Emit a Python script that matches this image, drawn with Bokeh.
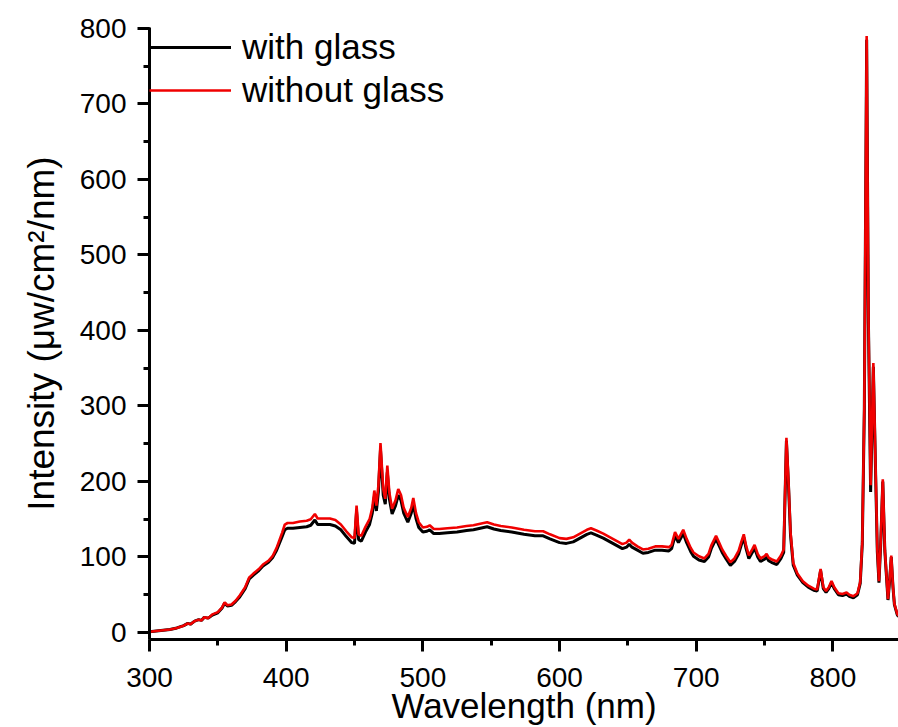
from bokeh.plotting import figure
from bokeh.models import Range1d, SingleIntervalTicker, Legend, LegendItem, ColumnDataSource
from bokeh.embed import file_html
from bokeh.resources import INLINE

# Wavelength grid (nm)
wavelength = [300, 305, 310, 315, 320, 325, 328, 330, 333, 336, 338, 340, 343, 346, 350, 353, 355, 357,
              360, 363, 366, 370, 373, 376, 380, 383, 387, 390, 393, 395, 397, 399, 401, 405, 410, 415,
              418, 421, 423, 427, 432, 436, 440, 444, 448, 450, 451.5, 453, 455, 458, 461, 463, 464.5,
              466, 467.5, 469, 471, 472.5, 474, 475.5, 477.5, 480, 482, 484, 486, 489, 491.5, 493, 495,
              497, 500, 503, 505, 508, 512, 518, 525, 532, 537, 542, 547, 552, 557, 565, 574, 582, 588,
              593, 600, 605, 610, 615, 620, 623, 627, 632, 637, 642, 646, 649, 651, 653, 657, 661, 665,
              670, 675, 680, 682, 684.5, 687, 690.5, 693, 696, 698, 702, 706, 709, 711, 714.5, 717, 719,
              722, 725, 728, 731, 733, 734.8, 736.5, 738.5, 741, 742.7, 745, 747, 750, 751.5, 753, 755,
              759, 762, 764, 766, 767.5, 769, 771, 774, 778, 782, 786, 788.5, 791, 793, 795, 797, 799,
              801, 804, 807, 810, 812, 815, 818, 820, 821.5, 823, 824.7, 826, 827.6, 829.6, 831.2, 832.5,
              833.7, 835, 836.5, 838, 840.3, 841.5, 842.7, 844, 845, 847, 848]

# Intensity without glass (uW/cm2/nm)
without_glass = [1, 2, 3, 4, 6, 9, 12, 11, 15, 17, 16, 20, 19, 24, 27, 33, 40, 36,
                 37, 42, 49, 60, 73, 78, 84, 90, 95, 101, 112, 122, 132, 143, 145, 145, 147, 148,
                 150, 157, 151, 151, 151, 149, 143, 134, 126, 125, 168, 130, 128, 140, 150, 165, 188,
                 168, 195, 251, 190, 177, 221, 185, 164, 175, 190, 182, 165, 153, 165, 178, 158,
                 146, 139, 140, 142, 137, 137, 138, 139, 141, 142, 144, 146, 143, 141, 139, 136, 134, 134,
                 130, 125, 124, 126, 131, 136, 138, 135, 131, 126, 121, 117, 119, 123, 119, 114, 110, 111,
                 114, 114, 113, 116, 133, 124, 136, 124, 112, 106, 101, 98, 104, 115, 128, 118, 110,
                 101, 93, 98, 108, 120, 130, 115, 102, 110, 116, 104, 98, 101, 104, 99, 97,
                 94, 102, 110, 258, 200, 133, 92, 78, 68, 62, 58, 57, 84, 60, 55, 60, 68,
                 60, 52, 51, 53, 50, 48, 52, 67, 120, 300, 790, 420, 195, 357, 220, 110,
                 68, 120, 203, 110, 44, 70, 102, 60, 38, 25, 22]

# Intensity with glass (uW/cm2/nm)
with_glass = [1, 2, 3, 4, 6, 9, 12, 11, 15, 17, 16, 20, 19, 23, 26, 32, 39, 35,
              36, 41, 47, 58, 71, 76, 82, 88, 93, 99, 109, 118, 127, 136, 138, 138, 139, 140,
              142, 149, 143, 143, 143, 141, 136, 127, 119, 118, 160, 123, 121, 133, 143, 158, 180,
              161, 187, 242, 182, 170, 212, 177, 157, 168, 182, 175, 158, 146, 158, 170, 151,
              139, 133, 134, 136, 131, 131, 132, 133, 135, 136, 138, 140, 137, 135, 133, 130, 128, 128,
              124, 119, 118, 120, 125, 130, 132, 129, 125, 120, 115, 111, 113, 117, 113, 109, 105, 106,
              109, 109, 108, 111, 128, 119, 131, 119, 107, 101, 96, 94, 100, 111, 124, 114, 106,
              97, 89, 94, 104, 116, 126, 111, 98, 106, 112, 100, 94, 97, 100, 95, 93,
              90, 98, 106, 254, 196, 129, 89, 76, 66, 60, 56, 55, 82, 58, 53, 58, 66,
              58, 50, 49, 51, 48, 46, 50, 65, 117, 295, 785, 410, 186, 352, 215, 107,
              66, 118, 200, 108, 43, 68, 100, 59, 37, 24, 21]

x_ticks_interval = 100
y_ticks_interval = 100

src = ColumnDataSource(dict(wl=wavelength, wo=without_glass, w=with_glass))

p = figure(width=898, height=727, output_backend="svg", toolbar_location=None,
           x_range=Range1d(300, 848), y_range=Range1d(-9.3, 801.3),
           min_border_left=149, min_border_right=0, min_border_top=27, min_border_bottom=86)

p.outline_line_color = None
p.xgrid.visible = False
p.ygrid.visible = False
p.background_fill_color = "white"

r_black = p.line("wl", "w", source=src, line_color="black", line_width=3)
r_red = p.line("wl", "wo", source=src, line_color="#f00000", line_width=2.6)

FONT = "Liberation Sans"
for ax, interval in ((p.xaxis[0], x_ticks_interval), (p.yaxis[0], y_ticks_interval)):
    ax.ticker = SingleIntervalTicker(interval=interval, num_minor_ticks=2)
    ax.axis_line_width = 3
    ax.axis_line_color = "black"
    ax.major_tick_line_width = 3
    ax.major_tick_out = 12
    ax.major_tick_in = 0
    ax.minor_tick_line_width = 3
    ax.minor_tick_out = 6
    ax.minor_tick_in = 0
    ax.major_label_text_font = FONT
    ax.major_label_text_font_size = "28px"
    ax.major_label_text_color = "black"
    ax.axis_label_text_font = FONT
    ax.axis_label_text_font_size = "35px"
    ax.axis_label_text_font_style = "normal"
    ax.axis_label_text_color = "black"

p.xaxis.axis_label = "Wavelength (nm)"
p.yaxis.axis_label = "Intensity (\u03bcw/cm\u00b2/nm)"
p.yaxis.axis_label_text_font_size = "37px"
p.xaxis.major_label_standoff = 16
p.xaxis.axis_label_standoff = -4
p.yaxis.major_label_standoff = 11
p.yaxis.axis_label_standoff = 15

legend = Legend(items=[LegendItem(label="with glass", renderers=[r_black]),
                       LegendItem(label="without glass", renderers=[r_red])],
                location="top_left", margin=0, padding=0, spacing=3,
                glyph_width=82, glyph_height=40, label_height=40, label_standoff=11,
                border_line_alpha=0, background_fill_alpha=0,
                label_text_font=FONT, label_text_font_size="35px", label_text_color="black")
p.add_layout(legend)

open("out.html", "w").write(file_html(p, INLINE))
